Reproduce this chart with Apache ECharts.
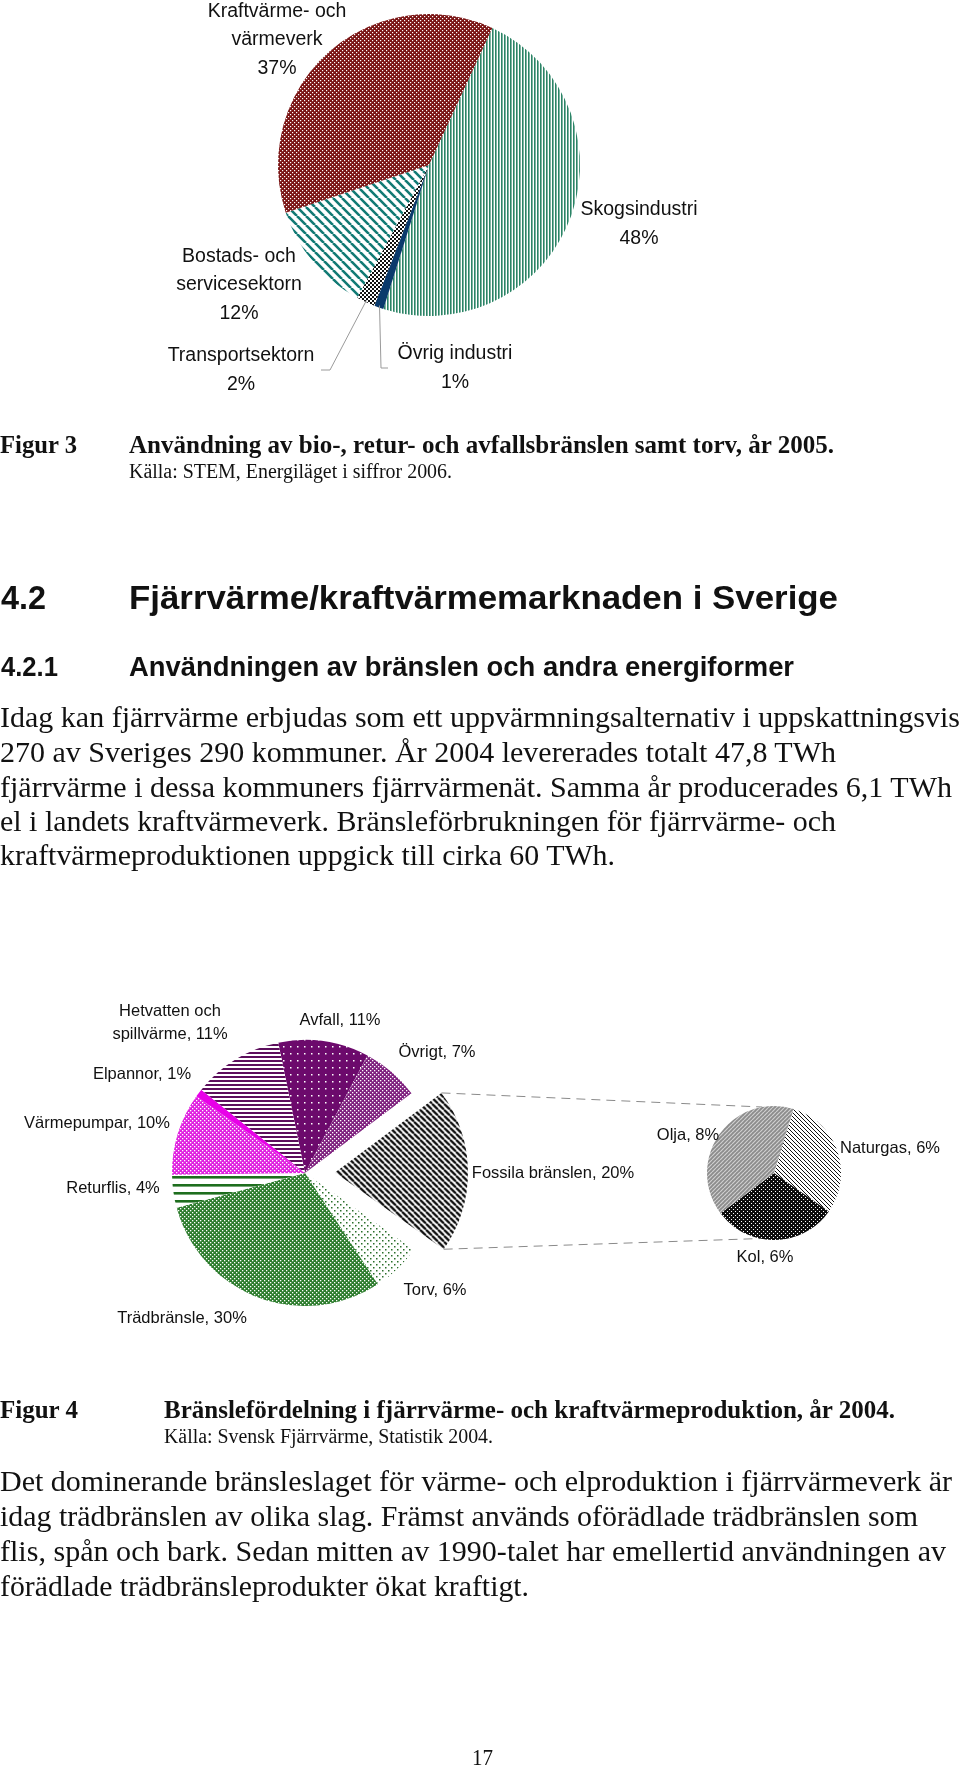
<!DOCTYPE html>
<html>
<head>
<meta charset="utf-8">
<script src="https://cdn.jsdelivr.net/npm/echarts/dist/echarts.min.js"></script>
<style>
  html, body { margin: 0; padding: 0; background: #fff; }
  #page { position: relative; width: 960px; height: 1766px; background: #fff; overflow: hidden; }
  #chart { position: absolute; left: 0; top: 0; width: 960px; height: 1766px; }
  .t { position: absolute; white-space: nowrap; transform-origin: 0 50%; color: #111; }
</style>
</head>
<body>
<div id="page"><div id="chart"></div></div>
<script>
// ---------------- DATA ----------------
// Figur 3: Användning av bio-, retur- och avfallsbränslen samt torv, år 2005 (%)
const fig3Categories = ['Skogsindustri', 'Övrig industri', 'Transportsektorn', 'Bostads- och\nservicesektorn', 'Kraftvärme- och\nvärmeverk'];
const fig3Values = [48, 1, 2, 12, 37];

// Figur 4: Bränslefördelning i fjärrvärme- och kraftvärmeproduktion, år 2004 (%)
const fig4Categories = ['Avfall', 'Övrigt', 'Fossila bränslen', 'Torv', 'Trädbränsle', 'Returflis', 'Värmepumpar', 'Elpannor', 'Hetvatten och\nspillvärme'];
const fig4Values = [11, 7, 20, 6, 30, 4, 10, 1, 11];
const fig4Exploded = 'Fossila bränslen';

// Fossila bränslen breakdown (%)
const fossilCategories = ['Naturgas', 'Kol', 'Olja'];
const fossilValues = [6, 6, 8];

// ---------------- LAYOUT ----------------
const P1 = { cx: 429, cy: 165, r: 151, startCW: 24.8 };
const P2 = { cx: 305, cy: 1173, r: 133, startCW: -11.6, offset: 30 };
const P3 = { cx: 774, cy: 1173, r: 67, startCW: 17 };
const connectorAnglesSmall = [350, 192];

const fig3LabelPos = [[639, 224], [455, 368], [241, 370], [239, 285], [277, 40]];
const fig3Leaders = { 1: [[381, 368], [388, 368]], 2: [[330, 370], [321, 370]] };
const fig4LabelPos = [[340, 1020], [437, 1052], [553, 1173], [435, 1290], [182, 1318], [113, 1188], [97, 1123], [142, 1074], [170, 1023]];
const fossilLabelPos = [[890, 1148], [765, 1257], [688, 1135]];
const LABEL_FONT = "'Liberation Sans', Arial, sans-serif";

// ---------------- PATTERNS ----------------
function tile(w, h, bg, fn) {
  const c = document.createElement('canvas');
  c.width = w; c.height = h;
  const g = c.getContext('2d');
  if (bg) { g.fillStyle = bg; g.fillRect(0, 0, w, h); }
  fn(g, w, h);
  return { image: c, repeat: 'repeat' };
}
function diag(s, bg, col, lw, dir) {
  return tile(s, s, bg, (g) => {
    g.strokeStyle = col; g.lineWidth = lw; g.beginPath();
    for (let k = -1; k <= 1; k++) {
      if (dir === '\\') { g.moveTo(k * s, 0); g.lineTo(k * s + s, s); }
      else { g.moveTo(k * s, s); g.lineTo(k * s + s, 0); }
    }
    g.stroke();
  });
}
function dots(s, bg, col, pts, d) {
  return tile(s, s, bg, (g) => { g.fillStyle = col; pts.forEach(p => g.fillRect(p[0], p[1], d, d)); });
}
function hstripes(h, bg, col, th) {
  return tile(4, h, bg, (g) => { g.fillStyle = col; g.fillRect(0, 0, 4, th); });
}
function vstripes(w, bg, col, th) {
  return tile(w, 4, bg, (g) => { g.fillStyle = col; g.fillRect(0, 0, th, 4); });
}

const fig3Styles = [
  vstripes(3, '#ffffff', '#2b8466', 1.6),                                 // Skogsindustri
  '#0b3a6c',                                                              // Övrig industri
  dots(4, '#ffffff', '#111111', [[0, 0], [2, 2]], 2),                     // Transportsektorn
  diag(9, '#ffffff', '#127a74', 2.6, '\\'),                               // Bostads
  dots(4, '#7a1414', '#ffffff', [[0, 0], [2, 2]], 1.2)                    // Kraftvärme
];
const fig4Styles = [
  dots(7, '#6c0a6c', '#ffffff', [[3, 3]], 1.5),                           // Avfall
  dots(4, '#7e207e', '#ffffff', [[0, 0], [2, 2]], 1.3),                   // Övrigt
  diag(6, '#ffffff', '#111111', 2.3, '\\'),                               // Fossila
  dots(6, '#ffffff', '#2a6e2a', [[1, 1], [4, 4]], 1.5),                   // Torv
  dots(4, '#2c7c2c', '#ffffff', [[0, 0], [2, 2]], 1.3),                   // Trädbränsle
  hstripes(8, '#ffffff', '#1e6e1e', 2.6),                                 // Returflis
  dots(4, '#e020e0', '#ffffff', [[0, 0], [2, 2]], 1.3),                   // Värmepumpar
  '#e800e8',                                                              // Elpannor
  hstripes(4, '#ffffff', '#5c0e5c', 2)                                    // Hetvatten
];
const fossilStyles = [
  diag(4, '#ffffff', '#111111', 1, '\\'),                                 // Naturgas
  dots(4, '#0d0d0d', '#ffffff', [[1, 1], [3, 3]], 1),                     // Kol
  diag(4, '#8c8c8c', '#cfcfcf', 1.2, '/')                                 // Olja
];

// ---------------- GEOMETRY HELPERS ----------------
function pt(c, r, aCW) { const a = aCW * Math.PI / 180; return [c.cx + r * Math.sin(a), c.cy - r * Math.cos(a)]; }
function sliceAngles(values, startCW) {
  const tot = values.reduce((a, b) => a + b, 0);
  let acc = startCW; return values.map(v => { const a0 = acc; acc += v / tot * 360; return [a0, acc]; });
}

const a1 = sliceAngles(fig3Values, P1.startCW);
const a2 = sliceAngles(fig4Values, P2.startCW);
const fi = fig4Categories.indexOf(fig4Exploded);
const fMid = (a2[fi][0] + a2[fi][1]) / 2;
const offX = P2.offset * Math.sin(fMid * Math.PI / 180);
const offY = -P2.offset * Math.cos(fMid * Math.PI / 180);
const shifted = { cx: P2.cx + offX, cy: P2.cy + offY };
const fTop = pt(shifted, P2.r, a2[fi][0]);
const fBot = pt(shifted, P2.r, a2[fi][1]);
const sTop = pt(P3, P3.r, connectorAnglesSmall[0]);
const sBot = pt(P3, P3.r, connectorAnglesSmall[1]);

const graphics = [];
Object.keys(fig3Leaders).forEach(k => {
  const i = +k; const mid = (a1[i][0] + a1[i][1]) / 2;
  const p0 = pt(P1, P1.r - 2, mid);
  graphics.push({ type: 'polyline', silent: true, z: 10, shape: { points: [p0].concat(fig3Leaders[k]) }, style: { stroke: '#9a9a9a', lineWidth: 1, fill: null } });
});
[[fTop, sTop], [fBot, sBot]].forEach(([p, q]) => {
  graphics.push({ type: 'line', silent: true, shape: { x1: p[0], y1: p[1], x2: q[0], y2: q[1] }, style: { stroke: '#8a8a8a', lineWidth: 1, lineDash: [9, 6] } });
});
// label of the exploded slice (drawn as graphic text: the selected state ignores labelLayout)
graphics.push({
  type: 'text', silent: true, z: 20,
  style: {
    text: fig4Categories[fi] + ', ' + fig4Values[fi] + '%',
    x: fig4LabelPos[fi][0], y: fig4LabelPos[fi][1],
    align: 'center', verticalAlign: 'middle', textAlign: 'center', textVerticalAlign: 'middle',
    font: '16.5px ' + LABEL_FONT, fill: '#111'
  }
});

function layoutFrom(pos) {
  return (params) => { const p = pos[params.dataIndex]; return { x: p[0], y: p[1], align: 'center', verticalAlign: 'middle' }; };
}

const chart = echarts.init(document.getElementById('chart'), null, { renderer: 'canvas' });
chart.setOption({
  animation: false,
  backgroundColor: 'transparent',
  graphic: graphics,
  series: [
    {
      type: 'pie', silent: true, center: [P1.cx, P1.cy], radius: P1.r, startAngle: 90 - P1.startCW, clockwise: true,
      avoidLabelOverlap: false,
      data: fig3Categories.map((n, i) => ({ name: n, value: fig3Values[i], itemStyle: { color: fig3Styles[i] } })),
      itemStyle: { borderWidth: 0 },
      label: { show: true, position: 'outside', formatter: p => p.name + '\n' + p.value + '%', fontFamily: LABEL_FONT, fontSize: 19.5, lineHeight: 28.5, color: '#111' },
      labelLine: { show: false },
      labelLayout: layoutFrom(fig3LabelPos)
    },
    {
      type: 'pie', silent: true, center: [P2.cx, P2.cy], radius: P2.r, startAngle: 90 - P2.startCW, clockwise: true,
      avoidLabelOverlap: false, selectedMode: 'single', selectedOffset: P2.offset,
      data: fig4Categories.map((n, i) => ({
        name: n, value: fig4Values[i], selected: n === fig4Exploded,
        itemStyle: { color: fig4Styles[i] },
        label: { show: n !== fig4Exploded }
      })),
      itemStyle: { borderWidth: 0 },
      select: { itemStyle: { borderWidth: 0 }, label: { show: false } },
      label: { show: true, position: 'outside', formatter: '{b}, {c}%', fontFamily: LABEL_FONT, fontSize: 16.5, lineHeight: 23, color: '#111' },
      labelLine: { show: false },
      labelLayout: layoutFrom(fig4LabelPos)
    },
    {
      type: 'pie', silent: true, center: [P3.cx, P3.cy], radius: P3.r, startAngle: 90 - P3.startCW, clockwise: true,
      avoidLabelOverlap: false,
      data: fossilCategories.map((n, i) => ({ name: n, value: fossilValues[i], itemStyle: { color: fossilStyles[i] } })),
      itemStyle: { borderWidth: 0 },
      label: { show: true, position: 'outside', formatter: '{b}, {c}%', fontFamily: LABEL_FONT, fontSize: 16.5, lineHeight: 23, color: '#111' },
      labelLine: { show: false },
      labelLayout: layoutFrom(fossilLabelPos)
    }
  ]
});

// ---------------- DOCUMENT TEXT ----------------
const SERIF = "'Liberation Serif', 'Times New Roman', serif";
const SANS = "'Liberation Sans', Arial, sans-serif";
const texts = [
  { t: 'Figur 3', f: SERIF, b: 1, s: 25, x0: 0, x1: 77, cy: 445 },
  { t: 'Användning av bio-, retur- och avfallsbränslen samt torv, år 2005.', f: SERIF, b: 1, s: 25, x0: 129, x1: 834, cy: 445 },
  { t: 'Källa: STEM, Energiläget i siffror 2006.', f: SERIF, b: 0, s: 20, x0: 129, x1: 452, cy: 471 },
  { t: '4.2', f: SANS, b: 1, s: 34, x0: 1, x1: 46, cy: 597 },
  { t: 'Fjärrvärme/kraftvärmemarknaden i Sverige', f: SANS, b: 1, s: 34, x0: 129, x1: 838, cy: 597 },
  { t: '4.2.1', f: SANS, b: 1, s: 27, x0: 1, x1: 58, cy: 667 },
  { t: 'Användningen av bränslen och andra energiformer', f: SANS, b: 1, s: 27, x0: 129, x1: 794, cy: 667 },
  { t: 'Idag kan fjärrvärme erbjudas som ett uppvärmningsalternativ i uppskattningsvis', f: SERIF, b: 0, s: 30, x0: 0, x1: 960, cy: 717 },
  { t: '270 av Sveriges 290 kommuner. År 2004 levererades totalt 47,8 TWh', f: SERIF, b: 0, s: 30, x0: 0, x1: 836, cy: 752 },
  { t: 'fjärrvärme i dessa kommuners fjärrvärmenät. Samma år producerades 6,1 TWh', f: SERIF, b: 0, s: 30, x0: 0, x1: 952, cy: 787 },
  { t: 'el i landets kraftvärmeverk. Bränsleförbrukningen för fjärrvärme- och', f: SERIF, b: 0, s: 30, x0: 0, x1: 836, cy: 821 },
  { t: 'kraftvärmeproduktionen uppgick till cirka 60 TWh.', f: SERIF, b: 0, s: 30, x0: 0, x1: 615, cy: 855 },
  { t: 'Figur 4', f: SERIF, b: 1, s: 25, x0: 0, x1: 78, cy: 1410 },
  { t: 'Bränslefördelning i fjärrvärme- och kraftvärmeproduktion, år 2004.', f: SERIF, b: 1, s: 25, x0: 164, x1: 895, cy: 1410 },
  { t: 'Källa: Svensk Fjärrvärme, Statistik 2004.', f: SERIF, b: 0, s: 20, x0: 164, x1: 493, cy: 1436 },
  { t: 'Det dominerande bränsleslaget för värme- och elproduktion i fjärrvärmeverk är', f: SERIF, b: 0, s: 30, x0: 0, x1: 952, cy: 1481 },
  { t: 'idag trädbränslen av olika slag. Främst används oförädlade trädbränslen som', f: SERIF, b: 0, s: 30, x0: 0, x1: 918, cy: 1516 },
  { t: 'flis, spån och bark. Sedan mitten av 1990-talet har emellertid användningen av', f: SERIF, b: 0, s: 30, x0: 0, x1: 946, cy: 1551 },
  { t: 'förädlade trädbränsleprodukter ökat kraftigt.', f: SERIF, b: 0, s: 30, x0: 0, x1: 529, cy: 1586 },
  { t: '17', f: SERIF, b: 0, s: 24, x0: 472, x1: 493, cy: 1757 }
];
const page = document.getElementById('page');
texts.forEach(s => {
  const el = document.createElement('div');
  el.className = 't';
  el.textContent = s.t;
  el.style.font = (s.b ? 'bold ' : '') + s.s + 'px/' + (s.s * 1.2) + 'px ' + s.f;
  el.style.left = s.x0 + 'px';
  el.style.top = (s.cy - s.s * 0.6) + 'px';
  page.appendChild(el);
  const w = el.getBoundingClientRect().width;
  el.style.transform = 'scaleX(' + ((s.x1 - s.x0) / w).toFixed(4) + ')';
});
</script>
</body>
</html>
